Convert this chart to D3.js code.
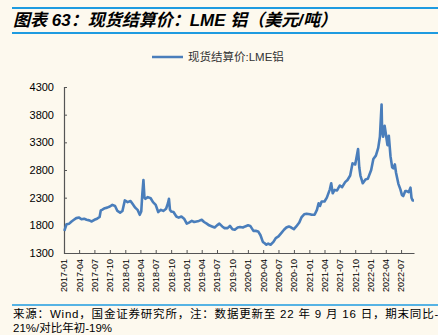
<!DOCTYPE html>
<html>
<head>
<meta charset="utf-8">
<script src="https://cdn.jsdelivr.net/npm/d3@7"></script>
<style>
html,body{margin:0;padding:0;background:#FDF9EE;}
svg{display:block;}
</style>
</head>
<body>
<div id="chart"></div>
<script>
const titleText = "图表 63：现货结算价：LME 铝（美元/吨）";
const seriesName = "现货结算价:LME铝";
const footLine1 = "来源：Wind，国金证券研究所，注：数据更新至 22 年 9 月 16 日，期末同比-";
const footLine2 = "21%/对比年初-19%";
const yTicks = [1300, 1800, 2300, 2800, 3300, 3800, 4300];

const dates = [
"2017-01-03","2017-01-16","2017-02-01","2017-02-15","2017-03-01","2017-03-15","2017-04-01","2017-04-15","2017-05-01","2017-05-15","2017-06-01","2017-06-15","2017-07-01","2017-07-17","2017-08-01","2017-08-08","2017-08-15","2017-09-01","2017-09-15","2017-10-01","2017-10-16","2017-11-01","2017-11-15","2017-12-01","2017-12-15","2017-12-29",
"2018-01-15","2018-02-01","2018-02-15","2018-03-01","2018-03-15","2018-03-28","2018-04-06","2018-04-12","2018-04-19","2018-04-25","2018-05-01","2018-05-15","2018-06-01","2018-06-15","2018-07-01","2018-07-16","2018-08-01","2018-08-15","2018-09-01","2018-09-12","2018-09-18","2018-09-24","2018-10-01","2018-10-15","2018-11-01","2018-11-15","2018-12-01","2018-12-17",
"2019-01-02","2019-01-15","2019-02-01","2019-02-15","2019-03-01","2019-03-15","2019-04-01","2019-04-15","2019-05-01","2019-05-15","2019-06-01","2019-06-17","2019-07-01","2019-07-15","2019-08-01","2019-08-15","2019-09-02","2019-09-16","2019-10-01","2019-10-15","2019-11-01","2019-11-15","2019-12-02","2019-12-16",
"2020-01-02","2020-01-15","2020-02-03","2020-02-17","2020-03-02","2020-03-16","2020-03-30","2020-04-08","2020-04-20","2020-05-01","2020-05-15","2020-06-01","2020-06-15","2020-07-01","2020-07-15","2020-08-03","2020-08-17","2020-09-01","2020-09-15","2020-10-01","2020-10-15","2020-11-02","2020-11-16","2020-12-01","2020-12-15",
"2021-01-04","2021-01-15","2021-02-01","2021-02-15","2021-02-25","2021-03-05","2021-03-15","2021-04-01","2021-04-15","2021-05-03","2021-05-11","2021-05-20","2021-06-01","2021-06-15","2021-07-01","2021-07-15","2021-08-02","2021-08-16","2021-09-01","2021-09-15","2021-10-01","2021-10-18","2021-10-25","2021-11-01","2021-11-15","2021-12-01","2021-12-15",
"2022-01-04","2022-01-17","2022-02-01","2022-02-15","2022-02-25","2022-03-07","2022-03-10","2022-03-16","2022-03-25","2022-04-01","2022-04-11","2022-04-19","2022-04-29","2022-05-09","2022-05-16","2022-05-25","2022-06-01","2022-06-15","2022-06-27","2022-07-06","2022-07-14","2022-07-26","2022-08-03","2022-08-15","2022-08-26","2022-09-01","2022-09-08","2022-09-16"
];
const prices = [
1700,1820,1830,1870,1900,1930,1940,1910,1920,1900,1890,1870,1900,1920,1950,2070,2080,2110,2120,2140,2170,2150,2060,2030,2060,2250,
2220,2240,2180,2120,2080,1990,2050,2350,2620,2300,2280,2310,2290,2220,2170,2040,2080,2060,2100,2200,2280,2080,2050,2040,1960,1940,1960,1920,
1830,1850,1880,1860,1870,1880,1900,1860,1830,1800,1780,1760,1800,1830,1780,1750,1750,1790,1730,1720,1760,1770,1760,1780,
1800,1790,1700,1700,1690,1620,1500,1480,1450,1470,1450,1500,1570,1600,1650,1720,1760,1780,1760,1730,1780,1850,1950,2000,2010,
2000,1990,1990,2080,2200,2150,2230,2230,2300,2450,2560,2380,2440,2430,2520,2490,2580,2620,2700,2920,2900,3180,2850,2700,2560,2630,2640,
2800,3000,3060,3200,3400,3985,3500,3400,3600,3460,3250,3420,3050,2850,2830,2900,2750,2550,2450,2350,2330,2420,2420,2400,2480,2300,2250,2250
];

const W = 438, H = 335;
const parse = d3.timeParse("%Y-%m-%d");
const data = dates.map((d, i) => ({ date: parse(d), value: prices[i] }));

const svg = d3.select("#chart").append("svg").attr("width", W).attr("height", H);
svg.append("rect").attr("width", W).attr("height", H).attr("fill", "#FDF9EE");

const FONT = "'Liberation Sans', Arial, 'Noto Sans CJK SC', sans-serif";

// Title
svg.append("line").attr("x1", 12).attr("x2", W).attr("y1", 8).attr("y2", 8)
  .attr("stroke", "#1E9BE0").attr("stroke-width", 2);
svg.append("text").attr("x", 13).attr("y", 26)
  .attr("font-family", FONT).attr("font-size", 17).attr("font-weight", "bold")
  .attr("font-style", "italic").attr("fill", "#000").text(titleText);
svg.append("line").attr("x1", 12).attr("x2", W).attr("y1", 33).attr("y2", 33)
  .attr("stroke", "#1E9BE0").attr("stroke-width", 2);

// Legend
svg.append("line").attr("x1", 152).attr("x2", 183).attr("y1", 57).attr("y2", 57)
  .attr("stroke", "#4A7EBB").attr("stroke-width", 2.5);
svg.append("text").attr("x", 188).attr("y", 61)
  .attr("font-family", FONT).attr("font-size", 11.5).attr("fill", "#333").text(seriesName);

// Scales
const x = d3.scaleTime()
  .domain([parse("2017-01-01"), parse("2022-09-16")])
  .range([64, 414]);
const y = d3.scaleLinear().domain([1300, 4300]).range([253, 87]);

// Y axis
const yAxis = d3.axisLeft(y).tickValues(yTicks).tickSize(-3).tickPadding(10).tickFormat(d3.format("d"));
const gy = svg.append("g").attr("transform", "translate(64,0)").call(yAxis);
gy.select(".domain").attr("stroke", "#555").attr("stroke-width", 1.2);
gy.selectAll(".tick line").attr("stroke", "#555");
gy.selectAll(".tick text").attr("font-family", FONT).attr("font-size", 11).attr("fill", "#000");

// X axis
const xTicks = d3.timeMonth.range(parse("2017-01-01"), parse("2022-07-02"), 3);
const xAxis = d3.axisBottom(x).tickValues(xTicks).tickSize(-3).tickSizeOuter(0).tickPadding(6).tickFormat(d3.timeFormat("%Y-%m"));
const gx = svg.append("g").attr("transform", "translate(0,253)").call(xAxis);
gx.select(".domain").attr("stroke", "#555").attr("stroke-width", 1.2);
gx.selectAll(".tick line").attr("stroke", "#555");
gx.selectAll(".tick text")
  .attr("font-family", FONT).attr("font-size", 9).attr("fill", "#000")
  .attr("text-anchor", "end").attr("dy", "0.32em")
  .attr("transform", "rotate(-90)").attr("x", -6).attr("y", 0);

// Line
const line = d3.line().x(d => x(d.date)).y(d => y(d.value));
svg.append("path").datum(data).attr("d", line)
  .attr("fill", "none").attr("stroke", "#4A7EBB").attr("stroke-width", 2.6)
  .attr("stroke-linejoin", "round");

// Footer
svg.append("line").attr("x1", 12).attr("x2", W).attr("y1", 305).attr("y2", 305)
  .attr("stroke", "#1E9BE0").attr("stroke-width", 1.5);
svg.append("text").attr("x", 13).attr("y", 318)
  .attr("font-family", FONT).attr("font-size", 11.5).attr("letter-spacing", 0.8)
  .attr("fill", "#000").text(footLine1);
svg.append("text").attr("x", 13).attr("y", 332)
  .attr("font-family", FONT).attr("font-size", 11.5).attr("fill", "#000").text(footLine2);
</script>
</body>
</html>
